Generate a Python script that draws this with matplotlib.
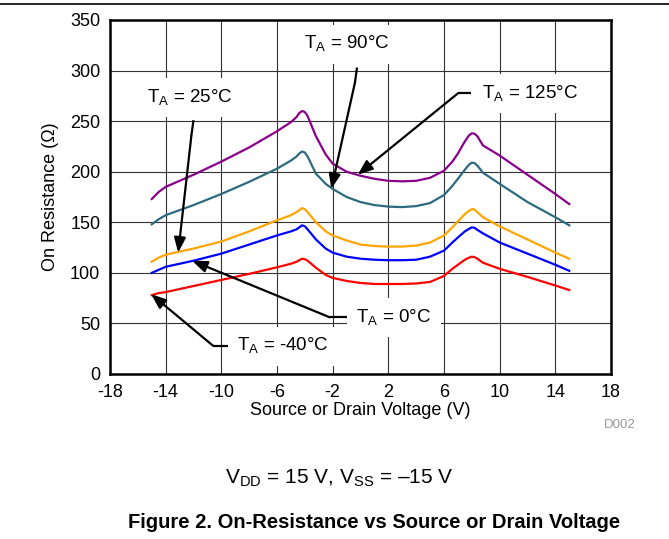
import matplotlib
matplotlib.use("Agg")
import matplotlib.pyplot as plt

plt.rcParams["font.family"] = ["Liberation Sans", "DejaVu Sans"]
plt.rcParams["mathtext.fontset"] = "custom"
plt.rcParams["mathtext.rm"] = "Liberation Sans"
plt.rcParams["mathtext.bf"] = "Liberation Sans:bold"
plt.rcParams["axes.unicode_minus"] = False

# Source/drain voltage (V) at which values were read
volts = [-15, -14.5, -14, -12, -10, -8, -6, -5, -4.6, -4.4, -4.2, -4.0, -3.8, -3.2,
         -2.5, -2, -1, 0, 1, 2, 3, 4, 5, 6, 6.6, 7, 7.5, 7.8, 8.0, 8.2, 8.4, 8.8,
         10, 12, 14, 15]

# On resistance (ohm) per ambient temperature
r_125 = [173, 180, 185, 197, 210, 224, 240, 249, 254, 258, 260, 259, 255, 235,
         217, 208, 200, 196, 193, 191, 190.5, 191, 194, 201, 210, 218, 230, 236,
         238, 237.5, 235, 226, 216, 197, 178, 168]
r_90 = [148, 153, 157, 167, 178, 190, 203, 211, 215, 218, 220, 219, 215, 198,
        188, 183, 175, 170, 167, 165.5, 165, 166, 169, 177, 186, 193, 202, 207,
        209, 208.5, 206, 199, 188, 170, 155, 147]
r_25 = [111, 115, 118, 124, 131, 141, 152, 157, 160, 162, 164, 163, 160, 150,
        141, 137, 132, 128, 126.5, 126, 126, 127, 130, 137, 145, 151, 158, 161.5,
        163, 162.5, 160, 155, 146, 133, 120, 114]
r_0 = [100, 103, 106, 112, 119, 128, 137, 141, 143, 145, 147, 146, 143, 133,
       124, 120, 116, 114, 113, 112.5, 112.5, 113, 116, 122, 130, 135, 141, 143.5,
       145, 144.5, 142.5, 139, 130, 119, 108, 102]
r_m40 = [78, 80, 81, 87, 93, 99, 105.5, 109, 111, 112.5, 114, 113.5, 112, 105,
         98, 95, 92, 90, 89, 89, 89, 89.5, 91, 97, 104, 108, 113, 115,
         116, 115.5, 114, 110, 104, 96, 87.5, 83]

xticks = [-18, -14, -10, -6, -2, 2, 6, 10, 14, 18]
yticks = [0, 50, 100, 150, 200, 250, 300, 350]

fig = plt.figure(figsize=(6.69, 5.39), dpi=100)
ax = fig.add_axes([110 / 669, 1 - 374 / 539, 501 / 669, 354 / 539])

ax.plot(volts, r_125, color="#8B008B", lw=1.6, zorder=3)
ax.plot(volts, r_90, color="#2E6A7E", lw=1.6, zorder=3)
ax.plot(volts, r_25, color="#FFA500", lw=1.6, zorder=3)
ax.plot(volts, r_0, color="#0000FF", lw=1.6, zorder=3)
ax.plot(volts, r_m40, color="#FF0000", lw=1.6, zorder=3)

ax.set_xlim(-18, 18)
ax.set_ylim(0, 350)
ax.set_xticks(xticks)
ax.set_yticks(yticks)
ax.tick_params(length=0, labelsize=13, pad=7)
ax.grid(True, color="#333333", lw=0.8, zorder=0)
for s in ax.spines.values():
    s.set_linewidth(1.8)

ax.set_xlabel("Source or Drain Voltage (V)", fontsize=13, labelpad=1)
ax.set_ylabel("On Resistance (\u03a9)", fontsize=13, labelpad=8)

# temperature callouts: label, text pos, elbow points, arrow tip
box = dict(boxstyle="square,pad=0.5", fc="white", ec="none")
arrow = dict(arrowstyle="-|>,head_length=0.9,head_width=0.35", color="black",
             lw=1.6, shrinkA=0, shrinkB=0)


def callout(label, tx, ty, elbow, tip, ha="center"):
    ax.text(tx, ty, label, fontsize=13.5, ha=ha, va="center", bbox=box, zorder=5)
    ax.plot([p[0] for p in elbow], [p[1] for p in elbow], color="black",
            lw=1.6, zorder=4, solid_capstyle="butt")
    ax.annotate("", xy=tip, xytext=elbow[-1], arrowprops=arrow, zorder=4)


callout(r"T$_\mathregular{A}$ = 90°C", -1.0, 326,
        [(-0.25, 303), (-0.4, 288)], (-2.1, 183))
callout(r"T$_\mathregular{A}$ = 25°C", -12.3, 273,
        [(-12.0, 251), (-12.15, 236)], (-13.1, 120))
callout(r"T$_\mathregular{A}$ = 125°C", 8.7, 277,
        [(7.95, 277.5), (7.0, 277.5)], (-0.2, 197), ha="left")
callout(r"T$_\mathregular{A}$ = 0°C", -0.3, 55.5,
        [(-0.9, 56), (-2.2, 56)], (-12.1, 112), ha="left")
callout(r"T$_\mathregular{A}$ = -40°C", -8.85, 27.5,
        [(-9.4, 28), (-10.6, 28)], (-15.05, 79), ha="left")

fig.text(620 / 669, 1 - 425 / 539, "D002", fontsize=9.5, color="#999999",
         ha="center", va="center")
fig.text(339 / 669, 1 - 478 / 539,
         "V$_\\mathregular{DD}$ = 15 V, V$_\\mathregular{SS}$ = \u201315 V",
         fontsize=15, ha="center", va="center")
fig.text(374 / 669, 1 - 523 / 539,
         "Figure 2. On-Resistance vs Source or Drain Voltage",
         fontsize=14.5, fontweight="bold", ha="center", va="center")
fig.add_artist(plt.Line2D([0, 1], [1 - 4 / 539, 1 - 4 / 539], color="black", lw=1.2))

fig.savefig("out.png", dpi=100)
